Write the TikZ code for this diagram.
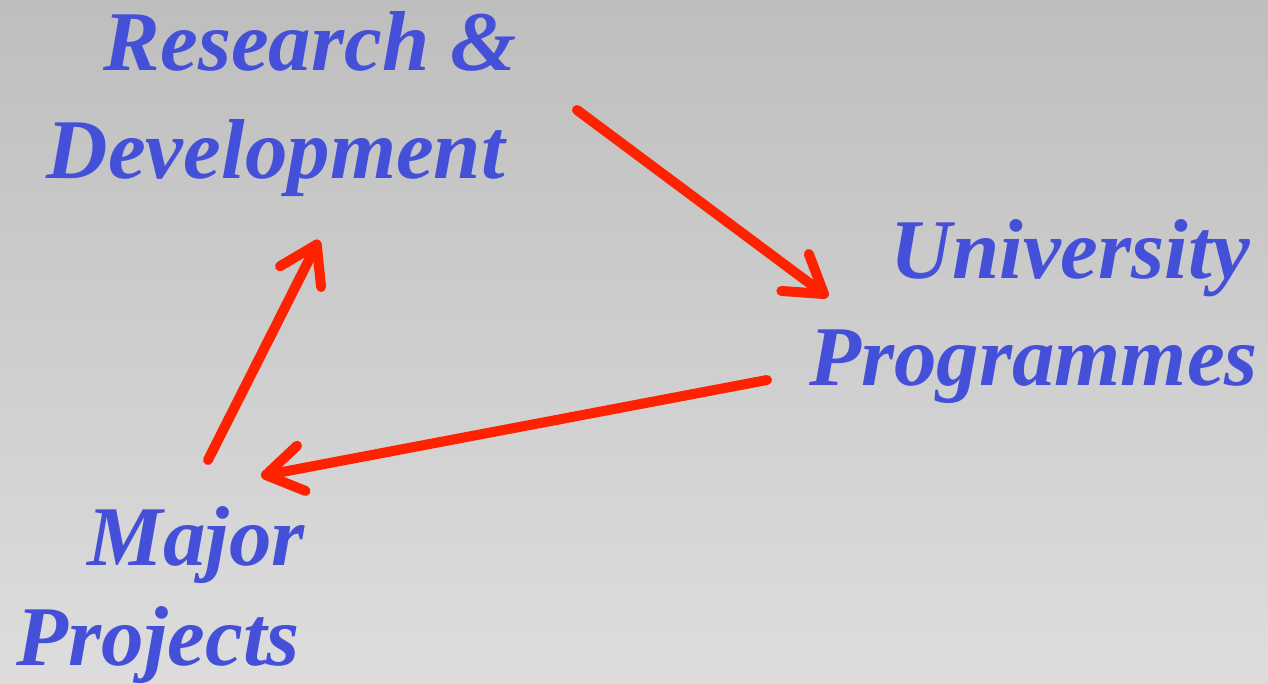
\documentclass[tikz,border=0pt]{standalone}
\usepackage{fontspec}
\setmainfont{Liberation Serif}
\usetikzlibrary{arrows.meta}
\definecolor{bgtop}{RGB}{190,190,190}
\definecolor{bgbot}{RGB}{221,221,221}
\definecolor{txtblue}{RGB}{68,80,216}
\definecolor{arrred}{RGB}{255,34,0}
\tikzset{
  lbl/.style={inner sep=0pt, text=txtblue, font=\fontsize{85}{100}\selectfont\bfseries\itshape, anchor=base east},
  conn/.style={draw=arrred, line width=10pt, line cap=round,
    -{Straight Barb[length=36pt, width=46pt, line cap=round, line join=round]}}
}
\begin{document}
\begin{tikzpicture}[x=1pt,y=-1pt]
\shade[top color=bgtop, bottom color=bgbot] (0,0) rectangle (1268,683);
\useasboundingbox (0,0) rectangle (1268,683);
\node[lbl] (rd1) at (517,70) {Research \&};
\node[lbl] (rd2) at (505,178) {Development};
\node[lbl] (up1) at (1250,278) {University};
\node[lbl] (up2) at (1258,385) {Programmes};
\node[lbl] (mp1) at (305,565) {Major};
\node[lbl] (mp2) at (300,665) {Projects};
\coordinate (a1s) at (577,110);
\coordinate (a1e) at (828,297);
\coordinate (a2s) at (208,460);
\coordinate (a2e) at (319,240);
\coordinate (a3s) at (767,380);
\coordinate (a3e) at (261,476);
\draw[conn] (a1s) -- (a1e);
\draw[conn] (a2s) -- (a2e);
\draw[conn] (a3s) -- (a3e);
\end{tikzpicture}
\end{document}
